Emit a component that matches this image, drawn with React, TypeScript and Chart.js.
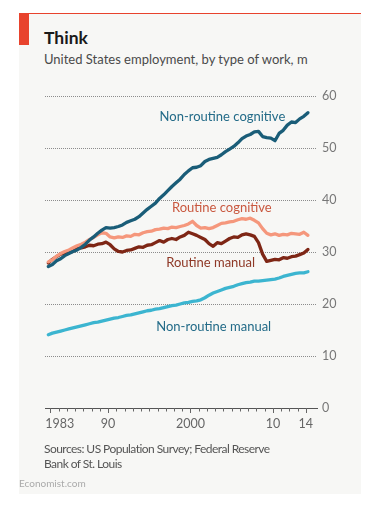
import React, { useEffect, useRef } from "react";
import { Chart, registerables } from "chart.js";

Chart.register(...registerables);

// Half-yearly observations, 1983 to mid-2014
const dates: number[] = Array.from({ length: 64 }, (_, i) => 1983 + i / 2);

// Employment, millions
const nonRoutineCognitive = [
  27.2, 27.6, 28.3, 28.7, 29.3, 29.7, 30.1, 30.4,
  30.9, 31.5, 32.3, 32.9, 33.6, 34.2, 34.7, 34.6,
  34.7, 34.9, 35.2, 35.7, 36.0, 36.3, 36.8, 37.5,
  38.2, 38.8, 39.4, 40.3, 41.0, 41.8, 42.6, 43.3,
  44.0, 44.9, 45.6, 46.2, 46.3, 46.6, 47.4, 47.8,
  48.0, 48.2, 48.7, 49.3, 49.8, 50.3, 51.0, 51.8,
  52.3, 52.6, 53.1, 53.2, 52.2, 52.0, 51.9, 51.4,
  52.8, 53.4, 54.4, 55.0, 54.9, 55.6, 56.1, 56.8,
];
const routineCognitive = [
  28.1, 28.5, 29.2, 29.7, 30.1, 30.4, 30.8, 31.2,
  31.5, 31.9, 32.4, 32.8, 33.3, 33.7, 33.6, 32.9,
  32.7, 32.9, 32.8, 33.1, 33.0, 33.4, 33.3, 33.7,
  33.9, 34.0, 34.3, 34.4, 34.6, 34.5, 34.8, 34.7,
  34.9, 35.1, 35.4, 35.9, 35.1, 34.6, 34.7, 34.5,
  34.7, 35.1, 35.5, 35.6, 35.8, 35.9, 36.2, 36.4,
  36.3, 36.5, 36.1, 35.6, 34.5, 33.6, 33.3, 33.5,
  33.2, 33.4, 33.3, 33.6, 33.5, 33.4, 33.8, 33.2,
];
const routineManual = [
  27.9, 28.6, 29.1, 29.6, 29.8, 29.9, 30.1, 30.7,
  30.8, 31.0, 31.3, 31.2, 31.5, 31.6, 31.9, 31.4,
  30.6, 30.1, 30.0, 30.3, 30.4, 30.7, 31.0, 30.9,
  31.3, 31.4, 31.8, 32.2, 31.9, 32.4, 32.6, 32.4,
  32.9, 33.2, 33.8, 33.5, 33.2, 32.8, 32.4, 31.6,
  31.1, 31.8, 31.6, 32.1, 32.6, 32.9, 32.8, 33.3,
  33.5, 33.3, 33.0, 31.8, 29.6, 28.2, 28.4, 28.6,
  28.5, 28.9, 28.8, 29.1, 29.2, 29.5, 29.8, 30.5,
];
const nonRoutineManual = [
  14.1, 14.4, 14.6, 14.8, 15.0, 15.2, 15.4, 15.6,
  15.8, 16.0, 16.2, 16.4, 16.5, 16.7, 16.9, 17.1,
  17.3, 17.4, 17.6, 17.8, 17.9, 18.1, 18.3, 18.5,
  18.7, 18.8, 19.0, 19.1, 19.3, 19.5, 19.7, 19.8,
  20.0, 20.2, 20.3, 20.5, 20.6, 20.8, 21.2, 21.7,
  22.1, 22.4, 22.7, 23.0, 23.2, 23.4, 23.7, 23.9,
  24.1, 24.2, 24.4, 24.4, 24.5, 24.6, 24.7, 24.8,
  25.0, 25.3, 25.5, 25.7, 25.9, 26.0, 26.0, 26.2,
];

const seriesNames = [
  "Non-routine cognitive",
  "Routine cognitive",
  "Routine manual",
  "Non-routine manual",
];
const seriesValues = [nonRoutineCognitive, routineCognitive, routineManual, nonRoutineManual];

const yearTicks: number[] = Array.from({ length: 32 }, (_, i) => 1983 + i);
const labelledYears = [1983, 1990, 2000, 2010, 2014];
const labelledYearText = ["1983", "90", "2000", "10", "14"];

// styles
const lineColors = ["#1a5d78", "#f5977c", "#7e2615", "#3cb5d0"];
const labelColors = ["#236b88", "#c9583f", "#8e3826", "#236b88"];
// label anchors, in data units (left edge, vertical middle)
const labelAnchors = [
  { x: 1996.5, y: 56.0 },
  { x: 1998.0, y: 38.5 },
  { x: 1997.3, y: 27.9 },
  { x: 1996.1, y: 15.6 },
];

const FONT = "Lato, 'Open Sans', sans-serif";

const decorPlugin = {
  id: "decor",
  afterDraw(chart: any) {
    const { ctx, chartArea } = chart;
    const xs = chart.scales.x;
    const ys = chart.scales.y;
    ctx.save();
    // year tick marks
    ctx.strokeStyle = "#666";
    ctx.lineWidth = 1;
    yearTicks.forEach((yr) => {
      const px = Math.round(xs.getPixelForValue(yr + 0.25)) + 0.5;
      const major = labelledYears.includes(yr);
      ctx.beginPath();
      ctx.moveTo(px, chartArea.bottom);
      ctx.lineTo(px, chartArea.bottom + (major ? 5 : 3.5));
      ctx.stroke();
    });
    // year labels
    ctx.fillStyle = "#666";
    ctx.font = `12.5px ${FONT}`;
    ctx.textBaseline = "top";
    labelledYears.forEach((yr, i) => {
      const px = xs.getPixelForValue(yr + 0.25);
      if (i === 0) {
        ctx.textAlign = "left";
        ctx.fillText(labelledYearText[i], px - 5, chartArea.bottom + 10);
      } else {
        ctx.textAlign = "center";
        ctx.fillText(labelledYearText[i], px, chartArea.bottom + 10);
      }
    });
    // series labels
    ctx.font = `13px ${FONT}`;
    ctx.textAlign = "left";
    ctx.textBaseline = "middle";
    seriesNames.forEach((name, i) => {
      const a = labelAnchors[i];
      ctx.fillStyle = labelColors[i];
      ctx.fillText(name, xs.getPixelForValue(a.x), ys.getPixelForValue(a.y));
    });
    ctx.restore();
  },
};

export default function App() {
  const canvasRef = useRef<HTMLCanvasElement | null>(null);

  useEffect(() => {
    const canvas = canvasRef.current;
    if (!canvas) return;
    const chart = new Chart(canvas, {
      type: "line",
      data: {
        datasets: seriesNames.map((name, i) => ({
          label: name,
          data: dates.map((d, j) => ({ x: d, y: seriesValues[i][j] })),
          borderColor: lineColors[i],
          backgroundColor: lineColors[i],
          borderWidth: 3.3,
          pointRadius: 0,
          tension: 0,
          borderJoinStyle: "round" as const,
          borderCapStyle: "round" as const,
          fill: false,
        })),
      },
      options: {
        animation: false,
        responsive: false,
        devicePixelRatio: 1,
        layout: { padding: { left: 45, right: 0, top: 96, bottom: 73 } },
        plugins: {
          legend: { display: false },
          tooltip: { enabled: false },
        },
        scales: {
          x: {
            type: "linear",
            min: 1982.6,
            max: 2015.6,
            ticks: { display: false },
            grid: { display: false },
            border: { display: true, color: "#555", width: 1 },
            afterFit: (s: any) => {
              s.height = 30;
            },
          },
          y: {
            position: "right",
            min: 0,
            max: 60,
            ticks: {
              stepSize: 10,
              color: "#777",
              font: { family: FONT, size: 12.5 },
              padding: 5,
            },
            grid: {
              drawTicks: false,
              lineWidth: 1,
              color: (c: any) =>
                c.tick && c.tick.value === 0 ? "rgba(0,0,0,0)" : "#8c8c8c",
            },
            border: { display: false, dash: [1, 1] },
            afterFit: (s: any) => {
              s.width = 59;
            },
          },
        },
      },
      plugins: [decorPlugin],
    });
    return () => chart.destroy();
  }, []);

  return (
    <div
      style={{
        position: "fixed",
        left: 0,
        top: 0,
        width: 376,
        height: 511,
        background: "#ffffff",
        overflow: "hidden",
        fontFamily: FONT,
      }}
    >
      <div style={{ position: "absolute", left: 19, top: 13, width: 342, height: 481, background: "#f7f7f5" }} />
      <div style={{ position: "absolute", left: 19, top: 13, width: 342, height: 1, background: "#e8432d" }} />
      <div style={{ position: "absolute", left: 19, top: 13, width: 10, height: 32, background: "#e8432d" }} />
      <div
        style={{
          position: "absolute",
          left: 44,
          top: 28,
          fontSize: 17.5,
          lineHeight: "20px",
          fontWeight: 700,
          color: "#1a1a1a",
          whiteSpace: "nowrap",
        }}
      >
        Think
      </div>
      <div
        style={{
          position: "absolute",
          left: 44,
          top: 51,
          fontSize: 13,
          lineHeight: "16px",
          color: "#4a4a4a",
          whiteSpace: "nowrap",
        }}
      >
        United States employment, by type of work, m
      </div>
      <canvas
        ref={canvasRef}
        width={376}
        height={511}
        style={{ position: "absolute", left: 0, top: 0, width: 376, height: 511 }}
      />
      <div
        style={{
          position: "absolute",
          left: 44,
          top: 442,
          fontSize: 12,
          lineHeight: "14.5px",
          letterSpacing: "-0.55px",
          color: "#555",
          whiteSpace: "nowrap",
        }}
      >
        Sources: US Population Survey; Federal Reserve
        <br />
        Bank of St. Louis
      </div>
      <div
        style={{
          position: "absolute",
          left: 19,
          top: 477,
          fontSize: 10,
          lineHeight: "12px",
          color: "#aaa",
          whiteSpace: "nowrap",
        }}
      >
        Economist.com
      </div>
    </div>
  );
}
